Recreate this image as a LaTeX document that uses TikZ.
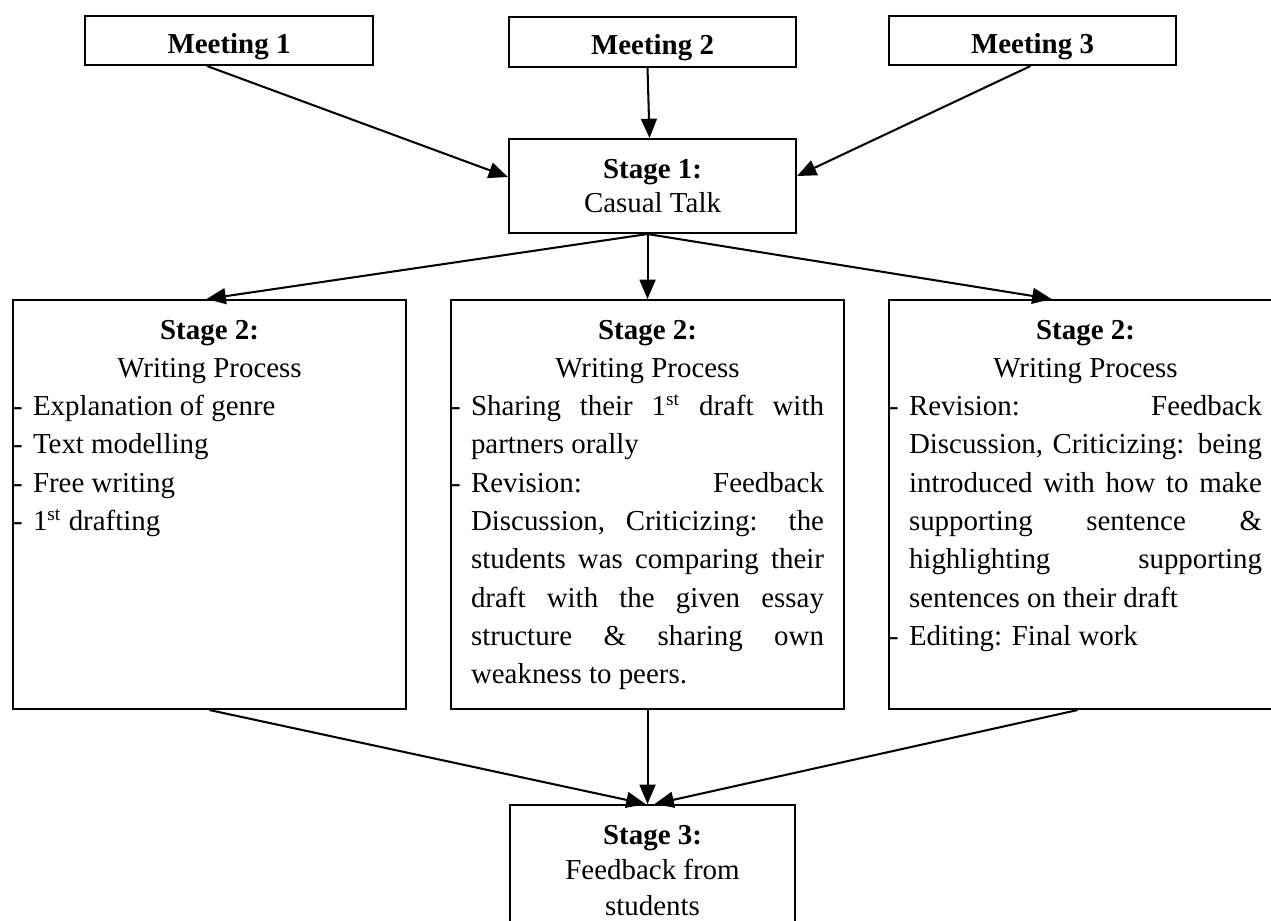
\documentclass[tikz,border=0pt]{standalone}
\usepackage{fontspec}
\setmainfont{Liberation Serif}
\usetikzlibrary{arrows.meta,calc}
\newlength\pxu
\setlength\pxu{0.415pt}
\newcommand{\stagefont}{\fontsize{12}{15.9}\selectfont\tolerance=10000\hyphenpenalty=10000\rightskip=20\pxu}
\newcommand{\stagehead}[2]{{\centering\rule{0pt}{39\pxu}\textbf{#1}\\#2\par}}
\newcommand{\dashitem}[1]{\par\hangindent=20\pxu\hangafter=1\noindent\makebox[20\pxu][l]{-}#1\par}
\tikzset{
  plainbox/.style={draw, line width=0.85pt, anchor=north west, inner sep=0pt},
  meetbox/.style={plainbox, text height=10.4pt, text depth=0pt, font=\fontsize{12}{14}\selectfont\bfseries},
  flow/.style={-{Triangle[length=8pt,width=6.6pt]}, line width=0.85pt}
}
\begin{document}
\begin{tikzpicture}[x=0.415pt, y=-0.415pt]
\clip (0,0) rectangle (1271,921);
\node[meetbox, minimum width=288*\pxu, minimum height=49*\pxu] (m1) at (84,15) {Meeting 1};
\node[meetbox, minimum width=287*\pxu, minimum height=50*\pxu] (m2) at (508,16) {Meeting 2};
\node[meetbox, minimum width=287*\pxu, minimum height=49*\pxu] (m3) at (888,15) {Meeting 3};
\node[plainbox] (s1) at (508,138) {\parbox[t][94\pxu][t]{287\pxu}{\fontsize{12}{14.5}\selectfont
  \stagehead{Stage 1:}{Casual Talk}}};
\node[plainbox] (s2a) at (12,299) {\parbox[t][409\pxu][t]{393\pxu}{\stagefont
  \stagehead{Stage 2:}{Writing Process}
  \dashitem{Explanation of genre}
  \dashitem{Text modelling}
  \dashitem{Free writing}
  \dashitem{1\textsuperscript{st} drafting}}};
\node[plainbox] (s2b) at (450,299) {\parbox[t][409\pxu][t]{393\pxu}{\stagefont
  \stagehead{Stage 2:}{Writing Process}
  \dashitem{Sharing their 1\textsuperscript{st} draft with\linebreak partners orally}
  \dashitem{Revision: Feedback\linebreak Discussion, Criticizing: the\linebreak students was comparing their\linebreak draft with the given essay\linebreak structure \& sharing own\linebreak weakness to peers.}}};
\node[plainbox] (s2c) at (888,299) {\parbox[t][409\pxu][t]{393\pxu}{\stagefont
  \stagehead{Stage 2:}{Writing Process}
  \dashitem{Revision: Feedback\linebreak Discussion, Criticizing: being\linebreak introduced with how to make\linebreak supporting sentence \&\linebreak highlighting supporting\linebreak sentences on their draft}
  \dashitem{Editing: Final work}}};
\node[plainbox] (s3) at (509,804) {\parbox[t][130\pxu][t]{285\pxu}{\fontsize{12}{14.9}\selectfont
  \stagehead{Stage 3:}{Feedback from\\students}}};
\draw[flow] ($(m1.south)+(-22,0)$) -- ($(s1.west)+(0,-9)$);
\draw[flow] ($(m2.south)+(-5,0)$) -- ($(s1.north)+(-3,0)$);
\draw[flow] ($(m3.south)+(-2,0)$) -- ($(s1.east)+(0,-10)$);
\draw[flow] ($(s1.south)+(-5,0)$) -- ($(s2a.north)+(-3,0)$);
\draw[flow] ($(s1.south)+(-5,0)$) -- (s2b.north);
\draw[flow] ($(s1.south)+(-5,0)$) -- ($(s2c.north)+(-34,0)$);
\draw[flow] (s2a.south) -- ($(s3.north)+(-7,0)$);
\draw[flow] (s2b.south) -- (s2b.south |- s3.north);
\draw[flow] ($(s2c.south)+(-8,0)$) -- ($(s3.north)+(2,0)$);
\end{tikzpicture}
\end{document}
